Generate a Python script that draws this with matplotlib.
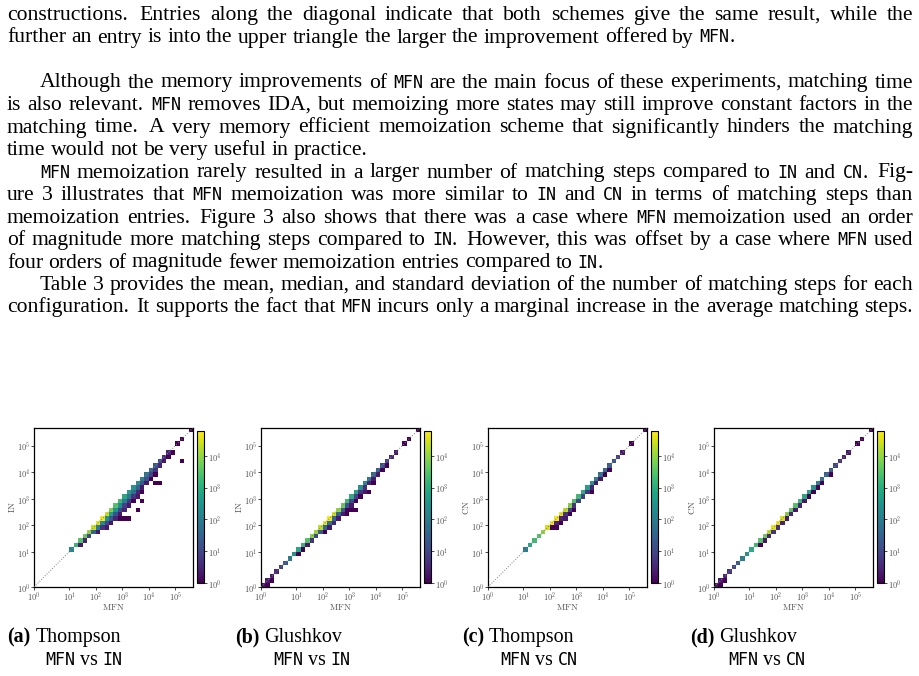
import re
import numpy as np
import matplotlib
matplotlib.use('Agg')
import matplotlib.pyplot as plt
from matplotlib.colors import LogNorm
from matplotlib.ticker import FixedLocator, FuncFormatter, NullLocator

plt.rcParams['mathtext.fontset'] = 'cm'

# ---------------- data ----------------
# heatmap bins: 8 bins in the first decade, then 6 per decade up to 10^(17/3)
edges_log = np.concatenate([np.arange(0, 8) / 8, 1 + np.arange(0, 29) / 6])

# counts on the diagonal, and 1/2/3 bins below it (index = MFN bin)
a_diag = [0, 0, 0, 0, 0, 0, 0, 0, 150, 1500, 3000, 5000, 10000, 25000, 40000, 50000,
          30000, 8000, 3000, 2000, 800, 400, 300, 200, 100, 60, 30, 20, 10, 4, 3, 0,
          1, 1, 0, 1]
a_below1 = [0] * 10 + [2, 3, 10, 30, 100, 200, 300, 400, 300, 200, 100, 80, 50, 30, 20,
                       15, 8, 5, 3, 2, 0, 1] + [0] * 4
a_below2 = [0] * 14 + [2, 5, 10, 20, 15, 10, 8, 6, 5, 3, 2, 2, 1, 1] + [0] * 8
a_below3 = [0] * 16 + [1, 2, 3, 2, 3, 2, 1, 2, 1] + [0] * 11
a_extra = [(2.45, 1.95, 1), (2.85, 2.2, 1), (3.06, 2.25, 1), (3.28, 2.25, 1), (3.5, 2.6, 1),
           (3.78, 2.96, 1), (4.19, 3.65, 1), (4.35, 3.5, 1), (5.25, 4.44, 1), (4.75, 4.6, 1)]

b_diag = [2, 2, 2, 3, 8, 20, 80, 300, 800, 1500, 3000, 8000, 12000, 20000, 40000, 50000,
          30000, 10000, 5000, 2000, 1000, 500, 300, 150, 80, 40, 25, 15, 8, 4, 2, 0,
          1, 1, 0, 1]
b_below1 = [0, 1, 1, 0, 0, 0, 0, 0, 1, 1, 2, 5, 10, 20, 40, 60,
            40, 30, 20, 15, 10, 8, 5, 4, 3, 2, 2, 1, 1, 0, 0, 0, 0, 0, 0, 0]
b_below2 = [0] * 14 + [1, 2, 3, 2, 2, 1, 2, 1, 1, 1, 0, 1] + [0] * 10
b_below3 = [0] * 36
b_extra = [(2.85, 2.45, 1), (3.2, 2.5, 1), (3.06, 2.55, 1), (3.55, 3.2, 1),
           (3.72, 3.2, 1), (3.3, 3.0, 1)]

c_diag = [0] * 8 + [100, 800, 2000, 3000, 10000, 30000, 50000, 50000,
                    40000, 20000, 8000, 3000, 2000, 1000, 500, 300,
                    100, 60, 40, 25, 15, 8, 2, 0, 1, 0, 0, 1]
c_below1 = [0] * 14 + [1, 2, 3, 5, 8, 5, 10, 8, 5, 3, 2, 2, 1, 1] + [0] * 8
c_below2 = [0] * 15 + [1, 1, 2, 1, 1] + [0] * 16
c_below3 = [0] * 36
c_extra = [(2.3, 2.05, 1), (3.5, 3.3, 1)]

d_diag = [2, 2, 3, 5, 10, 20, 100, 300, 1000, 2000, 3000, 5000, 20000, 40000, 50000, 30000,
          8000, 4000, 3000, 1500, 800, 500, 300, 100, 50, 30, 20, 10, 5, 3, 2, 0,
          1, 1, 0, 1]
d_below1 = [0, 1, 1, 0, 0, 0, 0, 0, 0, 0] + [1, 2, 3, 5, 4, 3, 2, 3, 2, 3, 2, 1, 1, 1, 1, 0, 1] + [0] * 9
d_below2 = [0] * 36
d_below3 = [0] * 36
d_extra = []

panels = [
    ('(a)', 'Thompson', 'IN', a_diag, a_below1, a_below2, a_below3, a_extra),
    ('(b)', 'Glushkov', 'IN', b_diag, b_below1, b_below2, b_below3, b_extra),
    ('(c)', 'Thompson', 'CN', c_diag, c_below1, c_below2, c_below3, c_extra),
    ('(d)', 'Glushkov', 'CN', d_diag, d_below1, d_below2, d_below3, d_extra),
]

body_lines = [
    # (text, indent, justified, baseline y in px)
    ("constructions.  Entries along the diagonal indicate that both schemes give the same result, while the", 0, True, 20),
    ("further an entry is into the upper triangle the larger the improvement offered by `MFN`.", 0, False, 42.5),
    ("Although the memory improvements of `MFN` are the main focus of these experiments, matching time", 1, True, 87.5),
    ("is also relevant. `MFN` removes IDA, but memoizing more states may still improve constant factors in the", 0, True, 110),
    ("matching time.  A very memory efficient memoization scheme that significantly hinders the matching", 0, True, 132.5),
    ("time would not be very useful in practice.", 0, False, 155),
    ("`MFN` memoization rarely resulted in a larger number of matching steps compared to `IN` and `CN`. Fig-", 1, True, 177.5),
    ("ure 3 illustrates that `MFN` memoization was more similar to `IN` and `CN` in terms of matching steps than", 0, True, 200),
    ("memoization entries.  Figure 3 also shows that there was a case where `MFN` memoization used an order", 0, True, 222.5),
    ("of magnitude more matching steps compared to `IN`. However, this was offset by a case where `MFN` used", 0, True, 245),
    ("four orders of magnitude fewer memoization entries compared to `IN`.", 0, False, 267.5),
    ("Table 3 provides the mean, median, and standard deviation of the number of matching steps for each", 1, True, 290),
    ("configuration. It supports the fact that `MFN` incurs only a marginal increase in the average matching steps.", 0, True, 312.5),
]

# ---------------- figure ----------------
W, H = 920, 676
fig = plt.figure(figsize=(W / 100, H / 100), dpi=100)
rend = fig.canvas.get_renderer()

MONO = 12
SERIF = 'Liberation Serif'
TT = 'DejaVu Sans Mono'


def piece(s, size):
    if s.startswith('`'):
        return fig.text(0, 0, s[1:-1], family=TT, size=MONO, va='baseline')
    if s.startswith('*'):
        return fig.text(0, 0, s[1:-1], family=SERIF, weight='bold', size=size, va='baseline')
    return fig.text(0, 0, s, family=SERIF, size=size, va='baseline')


def put_line(line, y, x0, x1=None, size=15.6):
    words = []
    for w in line.split():
        ps = [piece(p, size) for p in re.split(r'(`[^`]*`|\*[^*]*\*)', w) if p]
        ws = [p.get_window_extent(rend).width for p in ps]
        words.append((ps, ws))
    total = sum(sum(ws) for _, ws in words)
    weights = []
    for w in line.split()[:-1]:
        weights.append(1.35 if w.endswith('.') else 1.0)
    if x1 is None or not weights:
        unit = 0.25 * size * 100 / 72
    else:
        unit = (x1 - x0 - total) / sum(weights)
    x = x0
    for i, (ps, ws) in enumerate(words):
        for p, wd in zip(ps, ws):
            p.set_position((x / W, 1 - y / H))
            x += wd
        if i < len(weights):
            x += unit * weights[i]


for text, indent, just, yb in body_lines:
    put_line(text, yb, 7 + 33 * indent, 913 if just else None)


def px_rect(l, t, w, h):
    return [l / W, 1 - (t + h) / H, w / W, h / H]


S = 8 / 6


def fwd(v):
    lv = np.log10(np.clip(v, 1e-6, None))
    return np.where(lv < 1, lv * S, lv + S - 1)


def inv(p):
    return np.where(p < S, 10 ** (p / S), 10 ** (p - S + 1))


edges = 10 ** edges_log
cent = 10 ** ((edges_log[:-1] + edges_log[1:]) / 2)
top = edges[-1]
decades = [1, 10, 100, 1e3, 1e4, 1e5]
fmt = FuncFormatter(lambda v, pos: r'$10^{%d}$' % round(np.log10(v)))
ax_lefts = [34, 261, 488, 714]
cap_lefts = [7, 235, 462, 690]
lab_col = '#555555'

for k, (tag, name, other, diag, b1, b2, b3, extra) in enumerate(panels):
    xs, ys, cs = [], [], []
    for d, arr in enumerate([diag, b1, b2, b3]):
        for i, c in enumerate(arr):
            if c:
                xs.append(cent[i])
                ys.append(cent[i - d])
                cs.append(c)
    for lx, ly, c in extra:
        xs.append(10 ** lx)
        ys.append(10 ** ly)
        cs.append(c)
    Hc, _, _ = np.histogram2d(xs, ys, bins=[edges, edges], weights=cs)
    Hc = np.ma.masked_equal(Hc, 0)

    ax = fig.add_axes(px_rect(ax_lefts[k], 428, 159, 159))
    ax.set_xscale('function', functions=(fwd, inv))
    ax.set_yscale('function', functions=(fwd, inv))
    mesh = ax.pcolormesh(edges, edges, Hc.T, cmap='viridis', norm=LogNorm(1, 6e4))
    ax.plot([1, top], [1, top], ls=':', color='gray', lw=0.7, zorder=3)
    ax.set_xlim(1, top)
    ax.set_ylim(1, top)
    for axis in (ax.xaxis, ax.yaxis):
        axis.set_major_locator(FixedLocator(decades))
        axis.set_minor_locator(NullLocator())
        axis.set_major_formatter(fmt)
    ax.tick_params(labelsize=6, length=2, width=0.5, pad=0.5, labelcolor=lab_col)
    for sp in ax.spines.values():
        sp.set_linewidth(0.9)
    ax.set_xlabel(r'$\mathrm{MFN}$', fontsize=6.5, color=lab_col, labelpad=-1)
    ax.set_ylabel(r'$\mathrm{%s}$' % other, fontsize=6.5, color=lab_col, labelpad=0)

    cax = fig.add_axes(px_rect(ax_lefts[k] + 163, 431, 7, 152))
    cb = fig.colorbar(mesh, cax=cax)
    cb.outline.set_linewidth(0.8)
    cax.yaxis.set_major_locator(FixedLocator([1, 10, 100, 1e3, 1e4]))
    cax.yaxis.set_minor_locator(NullLocator())
    cax.yaxis.set_major_formatter(fmt)
    cax.tick_params(labelsize=6, length=2, width=0.5, pad=1, labelcolor=lab_col)

    put_line('*%s* %s' % (tag, name), 642, cap_lefts[k], size=14.4)
    put_line('`MFN` vs `%s`' % other, 665, cap_lefts[k] + 38, size=14.4)

fig.savefig('out.png', dpi=100)
